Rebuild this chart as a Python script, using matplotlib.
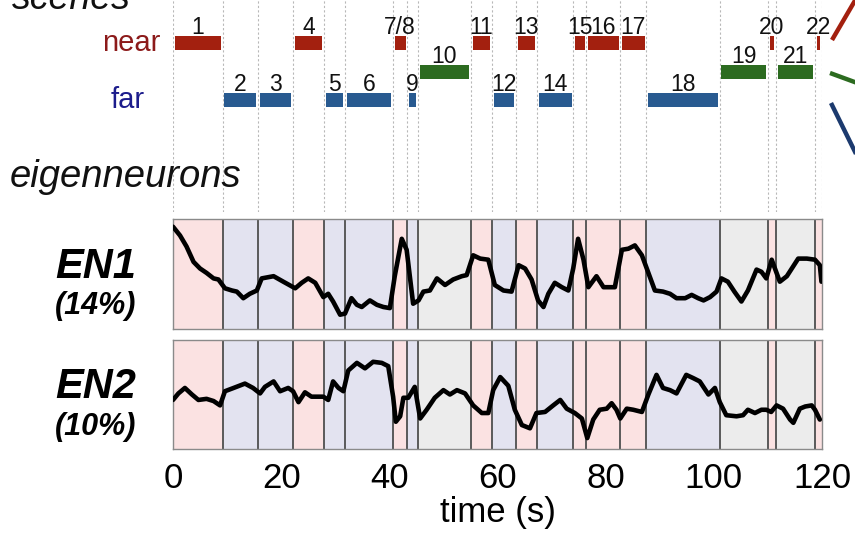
import matplotlib
matplotlib.use("Agg")
import matplotlib.pyplot as plt
from matplotlib.lines import Line2D

plt.rcParams['font.family'] = ['Liberation Sans', 'DejaVu Sans']

# ---------------- data ----------------
scene_labels = ['1', '2', '3', '4', '5', '6', '7/8', '9', '10', '11', '12', '13',
                '14', '15', '16', '17', '18', '19', '20', '21', '22']
scene_bounds = [0, 9.2, 15.7, 22.2, 27.9, 31.8, 40.7, 43.3, 45.3, 55.1, 59.0,
                63.4, 67.3, 74.0, 76.4, 82.7, 87.5, 101.1, 110.0, 111.5, 118.7, 120]
scene_kind = ['near', 'far', 'far', 'near', 'far', 'far', 'near', 'far', 'both',
              'near', 'far', 'near', 'far', 'near', 'near', 'near', 'far', 'both',
              'near', 'both', 'near']

en1_t = [0, 1.3, 2.5, 3.8, 5.0, 6.2, 7.5, 8.4, 9.6, 10.9, 11.8, 13.0, 14.2, 15.5,
         16.4, 18.6, 20.4, 22.6, 23.8, 25.0, 26.3, 27.8, 28.7, 29.6, 30.9, 31.8,
         33.0, 34.0, 34.9, 36.4, 37.7, 38.9, 40.1, 41.0, 42.3, 43.2, 44.4, 45.4,
         46.3, 47.5, 48.8, 50.3, 51.8, 53.4, 54.3, 55.5, 56.8, 58.3, 59.5, 61.1,
         62.6, 63.9, 65.1, 66.3, 67.5, 68.5, 69.4, 70.6, 71.9, 73.1, 74.0, 74.9,
         75.9, 76.8, 78.3, 79.6, 81.7, 83.0, 84.2, 85.4, 86.7, 87.9, 89.1, 90.6,
         91.9, 93.1, 94.7, 95.9, 97.1, 98.1, 99.3, 100.5, 101.4, 102.6, 103.8,
         105.1, 106.3, 107.9, 108.8, 109.7, 110.7, 111.3, 112.2, 113.5, 115.6,
         117.2, 118.7, 119.6, 119.9]
en1_v = [0.93, 0.85, 0.75, 0.61, 0.55, 0.51, 0.46, 0.45, 0.37, 0.35, 0.34, 0.28,
         0.32, 0.35, 0.46, 0.48, 0.43, 0.37, 0.42, 0.46, 0.42, 0.29, 0.32, 0.25,
         0.13, 0.14, 0.28, 0.22, 0.20, 0.26, 0.22, 0.20, 0.19, 0.48, 0.82, 0.72,
         0.23, 0.26, 0.34, 0.35, 0.46, 0.40, 0.45, 0.48, 0.49, 0.67, 0.64, 0.63,
         0.40, 0.35, 0.34, 0.58, 0.55, 0.45, 0.26, 0.20, 0.32, 0.42, 0.38, 0.35,
         0.55, 0.82, 0.63, 0.38, 0.48, 0.38, 0.38, 0.72, 0.73, 0.76, 0.67, 0.51,
         0.35, 0.34, 0.32, 0.28, 0.28, 0.31, 0.28, 0.26, 0.29, 0.34, 0.46, 0.43,
         0.34, 0.25, 0.35, 0.54, 0.52, 0.46, 0.63, 0.55, 0.43, 0.48, 0.64, 0.64,
         0.63, 0.58, 0.43]

en2_t = [0, 1.0, 2.2, 3.5, 4.7, 6.2, 7.5, 8.7, 9.6, 11.2, 13.3, 14.8, 16.1, 17.0,
         18.6, 19.8, 21.3, 22.2, 23.2, 24.4, 25.6, 27.8, 28.7, 29.6, 30.6, 31.5,
         32.4, 34.0, 35.5, 37.0, 38.6, 39.8, 40.7, 41.2, 42.0, 42.6, 43.5, 44.7,
         45.7, 46.9, 48.4, 50.0, 51.2, 52.5, 54.0, 55.5, 57.1, 58.3, 59.2, 60.5,
         62.0, 63.2, 64.5, 66.0, 67.2, 68.8, 70.3, 71.6, 72.8, 74.3, 75.6, 76.6,
         77.7, 78.9, 80.2, 81.1, 82.0, 82.7, 83.9, 85.1, 86.7, 87.9, 89.4, 90.6,
         91.9, 93.1, 94.9, 96.2, 97.4, 99.0, 100.2, 101.1, 102.3, 104.2, 105.4,
         106.3, 107.6, 108.8, 109.7, 110.6, 111.6, 112.8, 114.1, 114.7, 115.9,
         116.9, 118.1, 118.7, 119.6]
en2_v = [0.45, 0.51, 0.56, 0.50, 0.45, 0.46, 0.44, 0.40, 0.53, 0.56, 0.60, 0.56,
         0.51, 0.57, 0.62, 0.53, 0.56, 0.53, 0.43, 0.52, 0.48, 0.48, 0.45, 0.62,
         0.56, 0.53, 0.72, 0.79, 0.74, 0.80, 0.79, 0.76, 0.48, 0.25, 0.30, 0.47,
         0.47, 0.57, 0.28, 0.36, 0.47, 0.54, 0.50, 0.54, 0.51, 0.40, 0.33, 0.33,
         0.54, 0.66, 0.58, 0.36, 0.22, 0.19, 0.33, 0.34, 0.40, 0.45, 0.37, 0.33,
         0.28, 0.10, 0.27, 0.36, 0.37, 0.42, 0.36, 0.28, 0.37, 0.36, 0.34, 0.50,
         0.68, 0.56, 0.54, 0.51, 0.68, 0.65, 0.62, 0.50, 0.56, 0.43, 0.31, 0.30,
         0.31, 0.36, 0.33, 0.36, 0.36, 0.34, 0.40, 0.37, 0.27, 0.24, 0.37, 0.39,
         0.40, 0.36, 0.27]

en_names = ['EN1', 'EN2']
en_pct = ['(14%)', '(10%)']
x_ticks = [0, 20, 40, 60, 80, 100, 120]

# ---------------- styles ----------------
bar_color = {'near': '#a3200f', 'far': '#285a90', 'both': '#2c6b20'}
bg_color = {'near': '#fbe2e2', 'far': '#e3e3f0', 'both': '#ececec'}
row_y = {'near': 43, 'both': 72, 'far': 100}

W, H = 855, 535
fig = plt.figure(figsize=(W / 100, H / 100), dpi=100)

def fx(px):
    return px / W

def fy(py):
    return 1 - py / H

L, R = 173, 822
ax_w = fx(R) - fx(L)

# ---------------- scenes panel ----------------
ax_top = fig.add_axes([fx(L), fy(212), ax_w, fy(0) - fy(212)])
ax_top.set_xlim(0, 120)
ax_top.set_ylim(212, 0)
ax_top.axis('off')
for b in scene_bounds:
    ax_top.axvline(b, color='#b8b8b8', lw=0.8, ls=(0, (2, 2)), zorder=0)
gap = 0.3
for i, lab in enumerate(scene_labels):
    s, e = scene_bounds[i], scene_bounds[i + 1]
    k = scene_kind[i]
    y = row_y[k]
    ax_top.barh(y, (e - s) - 2 * gap, left=s + gap, height=14,
                color=bar_color[k], zorder=2)
    ax_top.text((s + e) / 2, y - 9, lab, ha='center', va='baseline',
                fontsize=16.5, color='#111111', zorder=3)

fig.text(fx(160), fy(43), 'near', ha='right', va='center', fontsize=21,
         color='#8c1a1a')
fig.text(fx(145), fy(100), 'far', ha='right', va='center', fontsize=21,
         color='#1c1c8c')
fig.text(fx(12), fy(9), 'scenes', ha='left', va='baseline', fontsize=27,
         style='italic', color='#111111')
fig.text(fx(10), fy(187), 'eigenneurons', ha='left', va='baseline', fontsize=27.5,
         style='italic', color='#111111')

# decorative connector lines at right edge
for (x0, y0, x1, y1, c) in [(832, 40, 860, -8, bar_color['near']),
                            (830, 73, 860, 84, bar_color['both']),
                            (831, 103, 860, 162, '#1c3a6e')]:
    fig.add_artist(Line2D([fx(x0), fx(x1)], [fy(y0), fy(y1)], color=c, lw=3.2,
                          transform=fig.transFigure, solid_capstyle='butt'))

# ---------------- eigenneuron panels ----------------
panels = [(219, 329, en1_t, en1_v), (340, 449, en2_t, en2_v)]
for j, (top, bot, tt, vv) in enumerate(panels):
    ax = fig.add_axes([fx(L), fy(bot), ax_w, fy(top) - fy(bot)])
    ax.set_xlim(0, 120)
    ax.set_ylim(0, 1)
    for i in range(len(scene_labels)):
        ax.axvspan(scene_bounds[i], scene_bounds[i + 1],
                   color=bg_color[scene_kind[i]], lw=0, zorder=0)
    for b in scene_bounds[1:-1]:
        ax.axvline(b, color='#5a5a5a', lw=1.4, zorder=1)
    ax.plot(tt, vv, color='black', lw=3.3, zorder=3, solid_joinstyle='round',
            solid_capstyle='round')
    for sp in ax.spines.values():
        sp.set_color('#8a8a8a')
        sp.set_linewidth(1.0)
    ax.set_yticks([])
    ax.tick_params(axis='x', length=0)
    if j == 0:
        ax.set_xticks([])
    else:
        ax.set_xticks(x_ticks)
        ax.set_xticklabels([str(t) for t in x_ticks], fontsize=25)
        ax.tick_params(axis='x', pad=9)
        ax.set_xlabel('time (s)', fontsize=25, labelpad=1)
    mid = (top + bot) / 2
    fig.text(fx(136), fy(mid - 7), en_names[j], ha='right', va='center',
             fontsize=30, weight='bold', style='italic')
    fig.text(fx(136), fy(mid + 32), en_pct[j], ha='right', va='center',
             fontsize=22, weight='bold', style='italic')

fig.savefig('out.png', dpi=100)
